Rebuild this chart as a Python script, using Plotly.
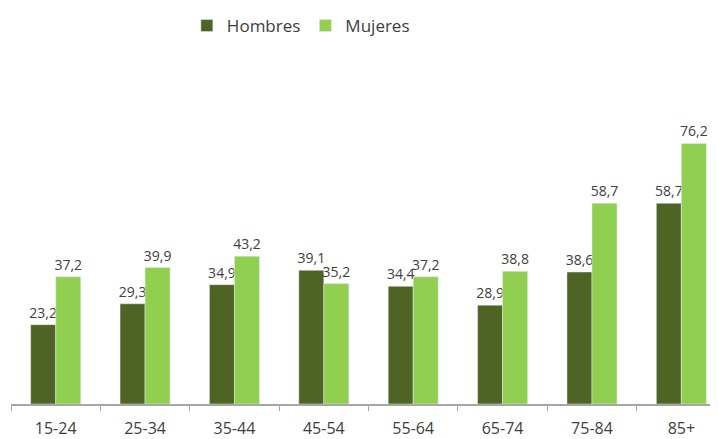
import plotly.graph_objects as go

categories = ["15-24", "25-34", "35-44", "45-54", "55-64", "65-74", "75-84", "85+"]
hombres = [23.2, 29.3, 34.9, 39.1, 34.4, 28.9, 38.6, 58.7]
mujeres = [37.2, 39.9, 43.2, 35.2, 37.2, 38.8, 58.7, 76.2]

dark = "#4f6325"
light = "#90cf4f"
txt = "#404040"
font = "Open Sans"

fig = go.Figure()
fig.add_trace(go.Bar(name="Hombres", x=categories, y=hombres, marker_color=dark,
                     texttemplate="%{y:.1f}", textposition="outside", cliponaxis=False,
                     constraintext="none",
                     textfont=dict(family=font, size=14, color=txt)))
fig.add_trace(go.Bar(name="Mujeres", x=categories, y=mujeres, marker_color=light,
                     texttemplate="%{y:.1f}", textposition="outside", cliponaxis=False,
                     constraintext="none",
                     textfont=dict(family=font, size=14, color=txt)))

# page body has an 8px default margin, so the figure is sized to fit the window
fig.update_layout(
    width=710, height=431,
    margin=dict(l=3, r=0, t=51, b=30),
    paper_bgcolor="white", plot_bgcolor="white",
    separators=",.",
    barmode="group", bargap=0.44, bargroupgap=0,
    font=dict(family=font, size=15, color=txt),
    showlegend=True,
    legend=dict(orientation="h", x=0.41, xanchor="center", y=1.106, yanchor="middle",
                font=dict(family=font, size=17, color=txt), traceorder="normal",
                itemwidth=30),
    xaxis=dict(range=[-0.5, 7.41], showline=True, linecolor="#a6a6a6", linewidth=1.5,
               ticks="outside", tickson="boundaries", ticklen=5, tickcolor="#a6a6a6",
               ticklabelstandoff=9,
               tickfont=dict(family=font, size=16, color=txt), showgrid=False),
    yaxis=dict(range=[0, 100], visible=False, showgrid=False),
)

fig.write_html("out.html")
